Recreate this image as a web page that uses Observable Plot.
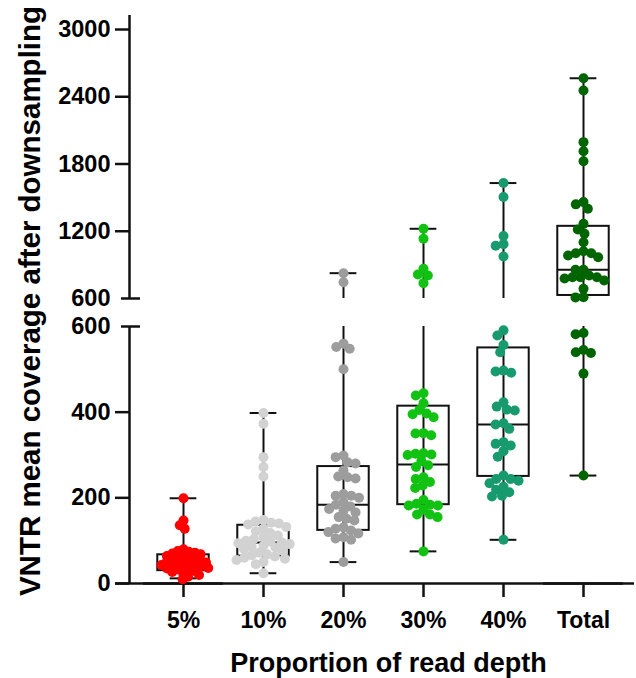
<!DOCTYPE html>
<html>
<head>
<meta charset="utf-8">
<script src="https://cdn.jsdelivr.net/npm/d3@7"></script>
<script src="https://cdn.jsdelivr.net/npm/@observablehq/plot@0.6"></script>
<style>
  html, body { margin: 0; padding: 0; background: #fff; }
  #chart { width: 636px; height: 678px; }
</style>
</head>
<body>
<div id="chart"></div>
<script>
// ---- Data ----
const categories = ["5%", "10%", "20%", "30%", "40%", "Total"];
const colors = ["#ff0000", "#d2d2d2", "#9d9d9d", "#12c212", "#179a6e", "#006400"];

const values5 = [199, 147, 136, 128, 80, 76, 74, 72, 70, 68, 66, 64, 62, 60, 58, 56, 54, 52, 50, 49, 47, 46, 44, 43, 41, 40, 38, 36, 35, 33, 31, 29, 27, 24, 20, 16, 10];
const values10 = [398, 373, 295, 272, 250, 148, 145, 142, 140, 138, 132, 128, 122, 118, 112, 108, 104, 100, 98, 96, 94, 92, 88, 86, 84, 80, 76, 72, 68, 66, 63, 60, 58, 55, 50, 45, 24];
const values20 = [826, 745, 560, 552, 548, 500, 299, 295, 283, 280, 264, 250, 248, 245, 209, 205, 205, 200, 190, 184, 180, 174, 170, 166, 155, 151, 147, 131, 128, 124, 120, 117, 108, 105, 102, 50];
const values30 = [1222, 1133, 865, 814, 805, 737, 444, 439, 421, 405, 397, 395, 388, 351, 350, 346, 304, 303, 301, 300, 286, 276, 272, 248, 244, 237, 229, 223, 195, 186, 184, 182, 182, 172, 161, 161, 155, 75];
const values40 = [1630, 1505, 1158, 1085, 1070, 975, 591, 579, 557, 540, 497, 495, 492, 423, 413, 406, 404, 374, 371, 361, 330, 326, 322, 309, 296, 252, 244, 244, 240, 234, 226, 219, 213, 205, 203, 102];
const valuesTotal = [2565, 2456, 1995, 1914, 1825, 1460, 1440, 1400, 1266, 1216, 1177, 1102, 1022, 1004, 1004, 984, 968, 856, 856, 805, 790, 790, 790, 778, 760, 686, 612, 610, 585, 582, 545, 540, 538, 490, 252];

const boxMin = [12, 24, 50, 75, 102, 252];
const boxQ1 = [30, 64, 124, 184, 250, 627];
const boxMedian = [46, 96, 184, 278, 371, 856];
const boxQ3 = [67, 136, 273, 414, 550, 1244];
const boxMax = [199, 398, 826, 1222, 1630, 2565];

const lowerTicks = [0, 200, 400, 600];
const upperTicks = [600, 1200, 1800, 2400, 3000];

const xTitle = "Proportion of read depth";
const yTitle = "VNTR mean coverage after downsampling";

// ---- Tables built from the arrays ----
const BRK = 600, EPS = 0.001, AXIS_TOP = 3125;
const seriesValues = [values5, values10, values20, values30, values40, valuesTotal];
const rows = [];
categories.forEach((c, i) => seriesValues[i].forEach(v => rows.push({cat: c, value: v})));
const denseCats = ["5%"];
const rowsDense = rows.filter(d => denseCats.includes(d.cat));
const rowsOther = rows.filter(d => !denseCats.includes(d.cat));
const boxes = categories.map((c, i) => ({cat: c, min: boxMin[i], q1: boxQ1[i], med: boxMedian[i], q3: boxQ3[i], max: boxMax[i]}));
const whiskLow = boxes.map(b => ({cat: b.cat, y1: b.min, y2: Math.min(b.max, BRK)}));
const whiskUp = boxes.filter(b => b.max > BRK).map(b => ({cat: b.cat, y1: Math.max(b.min, BRK + EPS), y2: b.max}));
const upTick = v => (v === BRK ? BRK + EPS : v);

const font = '"Liberation Sans", Arial, Helvetica, sans-serif';
const lineColor = "#111";

const chart = Plot.plot({
  width: 636,
  height: 678,
  marginLeft: 140,
  marginRight: 11,
  marginTop: 20,
  marginBottom: 95,
  style: {fontFamily: font, fontWeight: "bold", fontSize: "23px", color: "#000", background: "#fff", overflow: "visible"},
  fx: {domain: categories, padding: 0, label: null},
  x: {domain: [-1, 1], axis: null},
  y: {type: "linear", domain: [0, BRK, BRK + EPS, 3000], range: [583, 326, 298, 29]},
  color: {domain: categories, range: colors},
  marks: [
    // axis lines
    Plot.ruleY([0], {stroke: lineColor, strokeWidth: 2.5}),
    Plot.ruleY([0], {stroke: lineColor, strokeWidth: 2.5, insetLeft: -28, facetAnchor: "left"}),
    Plot.ruleY([0], {stroke: lineColor, strokeWidth: 2.5, insetRight: -11, facetAnchor: "right"}),
    Plot.ruleX([[0, BRK], [BRK + EPS, AXIS_TOP]], {x: -1, y1: d => d[0], y2: d => d[1], dx: -14, stroke: lineColor, strokeWidth: 2.5, facetAnchor: "left"}),
    Plot.ruleY([...lowerTicks.filter(v => v !== BRK), ...upperTicks.filter(v => v !== BRK)], {y: d => d, x1: -1, x2: -1, insetLeft: -28, insetRight: 14, stroke: lineColor, strokeWidth: 2.5, facetAnchor: "left"}),
    Plot.ruleY([BRK, BRK + EPS], {y: d => d, x1: -1, x2: -1, insetLeft: -22, insetRight: 3, stroke: lineColor, strokeWidth: 2.5, facetAnchor: "left"}),
    Plot.axisY(lowerTicks, {y: d => d, tickSize: 0, tickPadding: 33, label: null, fontSize: 23.5, fontWeight: "bold"}),
    Plot.axisY(upperTicks.map(upTick), {y: d => d, tickSize: 0, tickPadding: 33, label: null, fontSize: 23.5, fontWeight: "bold", tickFormat: d => String(Math.round(d))}),
    Plot.axisFx({anchor: "bottom", tickSize: 14, tickPadding: 14, label: null, fontSize: 23, fontWeight: "bold", strokeWidth: 2.5, stroke: lineColor}),
    // box plots (min-to-max whiskers)
    Plot.ruleX(whiskLow, {fx: "cat", x: 0, y1: "y1", y2: "y2", stroke: lineColor, strokeWidth: 2}),
    Plot.ruleX(whiskUp, {fx: "cat", x: 0, y1: "y1", y2: "y2", stroke: lineColor, strokeWidth: 2}),
    Plot.ruleY(boxes, {fx: "cat", y: "min", x1: -0.334, x2: 0.334, stroke: lineColor, strokeWidth: 2}),
    Plot.ruleY(boxes, {fx: "cat", y: "max", x1: -0.334, x2: 0.334, stroke: lineColor, strokeWidth: 2}),
    Plot.rect(boxes, {fx: "cat", x1: -0.643, x2: 0.643, y1: "q1", y2: "q3", fill: "none", stroke: lineColor, strokeWidth: 2}),
    Plot.ruleY(boxes, {fx: "cat", y: "med", x1: -0.643, x2: 0.643, stroke: lineColor, strokeWidth: 2}),
    // points (beeswarm)
    Plot.dot(rowsDense, Plot.dodgeX({anchor: "middle", padding: -4}, {fx: "cat", y: "value", r: 5, fill: "cat", stroke: "none"})),
    Plot.dot(rowsOther, Plot.dodgeX({anchor: "middle", padding: -2}, {fx: "cat", y: "value", r: 5, fill: "cat", stroke: "none"})),
    // titles
    Plot.text([yTitle], {text: d => d, frameAnchor: "left", rotate: -90, dx: -113, dy: -1, textAnchor: "middle", lineAnchor: "middle", fontSize: 29.5, fontWeight: "bold", facetAnchor: "left"}),
    Plot.text([xTitle], {text: d => d, frameAnchor: "bottom", dx: 205, dy: 80, textAnchor: "middle", lineAnchor: "middle", fontSize: 27, fontWeight: "bold", facetAnchor: "left"})
  ]
});
document.getElementById("chart").appendChild(chart);
</script>
</body>
</html>
